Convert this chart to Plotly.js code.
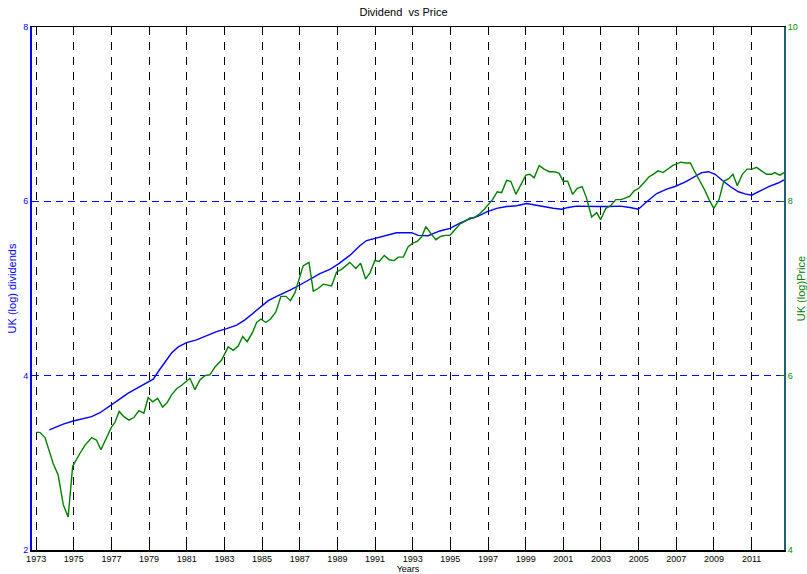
<!DOCTYPE html>
<html>
<head>
<meta charset="utf-8">
<script src="https://cdn.plot.ly/plotly-3.0.1.min.js"></script>
<style>html,body{margin:0;padding:0;background:#fff;}#chart{width:807px;height:574px;}</style>
</head>
<body>
<div id="chart"></div>
<script>
// Green series: UK (log) Price, right axis
const priceYears = [1973.0,1973.2,1973.47,1973.91,1974.17,1974.44,1974.7,1974.94,1975.33,1975.59,1975.95,1976.21,1976.44,1976.74,1977.0,1977.18,1977.41,1977.66,1977.93,1978.19,1978.46,1978.72,1978.95,1979.19,1979.45,1979.72,1979.96,1980.19,1980.46,1980.73,1981.17,1981.43,1981.7,1981.96,1982.23,1982.5,1982.85,1983.2,1983.47,1983.73,1983.97,1984.21,1984.5,1984.71,1984.94,1985.2,1985.45,1985.73,1986.0,1986.27,1986.51,1986.74,1986.97,1987.18,1987.49,1987.72,1987.98,1988.25,1988.69,1988.96,1989.22,1989.66,1989.98,1990.23,1990.5,1990.73,1990.99,1991.22,1991.49,1991.75,1992.02,1992.23,1992.5,1992.76,1993.0,1993.24,1993.47,1993.7,1993.97,1994.23,1994.5,1994.75,1994.98,1995.24,1995.51,1995.77,1996.04,1996.27,1996.57,1996.8,1997.01,1997.24,1997.49,1997.72,1997.99,1998.21,1998.48,1998.78,1999.01,1999.22,1999.45,1999.72,1999.98,2000.25,2000.51,2000.78,2000.99,2001.23,2001.49,2001.74,2002.0,2002.23,2002.5,2002.77,2002.98,2003.26,2003.51,2003.79,2004.06,2004.32,2004.53,2004.76,2005.01,2005.27,2005.54,2005.77,2006.03,2006.3,2006.56,2006.8,2007.01,2007.24,2007.5,2007.75,2007.98,2008.25,2008.51,2008.74,2008.99,2009.27,2009.52,2009.78,2010.01,2010.24,2010.51,2010.76,2011.03,2011.26,2011.53,2011.79,2012.06,2012.23,2012.5,2012.72];
const priceVals = [5.35,5.35,5.29,4.99,4.86,4.52,4.38,4.96,5.11,5.20,5.29,5.26,5.15,5.30,5.41,5.46,5.59,5.53,5.49,5.52,5.60,5.57,5.75,5.70,5.74,5.64,5.69,5.78,5.85,5.89,5.97,5.84,5.95,6.00,6.01,6.10,6.18,6.33,6.29,6.34,6.45,6.39,6.50,6.61,6.65,6.61,6.65,6.73,6.91,6.91,6.86,6.95,7.12,7.26,7.30,6.97,7.00,7.05,7.03,7.19,7.22,7.30,7.23,7.29,7.11,7.18,7.32,7.31,7.38,7.33,7.32,7.36,7.36,7.48,7.52,7.54,7.59,7.71,7.63,7.56,7.60,7.61,7.61,7.67,7.74,7.77,7.81,7.81,7.86,7.91,7.96,8.02,8.11,8.10,8.24,8.23,8.08,8.21,8.30,8.31,8.27,8.41,8.37,8.34,8.34,8.32,8.23,8.23,8.08,8.15,8.17,8.04,7.82,7.87,7.79,7.92,7.95,8.02,8.02,8.04,8.06,8.12,8.15,8.21,8.28,8.31,8.35,8.33,8.37,8.41,8.43,8.45,8.44,8.44,8.34,8.24,8.13,8.02,7.92,8.02,8.23,8.26,8.31,8.18,8.31,8.37,8.37,8.39,8.35,8.31,8.31,8.33,8.30,8.33];

// Blue series: UK (log) dividends, left axis
const divYears = [1973.7,1974.09,1974.44,1974.97,1975.5,1975.95,1976.39,1976.92,1977.36,1977.89,1978.34,1978.78,1979.22,1979.48,1979.84,1980.19,1980.55,1980.99,1981.52,1982.06,1982.58,1983.12,1983.65,1984.09,1984.44,1984.89,1985.33,1985.77,1986.12,1986.48,1987.01,1987.54,1988.07,1988.6,1989.04,1989.66,1990.19,1990.55,1991.08,1991.61,1992.14,1992.94,1993.29,1993.82,1994.44,1994.98,1995.51,1996.04,1996.48,1996.93,1997.46,1997.99,1998.52,1999.05,1999.76,2000.02,2000.46,2000.91,2001.26,2001.7,2002.24,2002.77,2003.48,2004.01,2004.54,2004.98,2005.43,2005.96,2006.49,2006.93,2007.46,2007.91,2008.35,2008.71,2009.06,2009.42,2009.86,2010.3,2010.65,2011.0,2011.44,2011.97,2012.41,2012.72];
const divVals = [3.377,3.41,3.445,3.48,3.51,3.53,3.575,3.65,3.72,3.80,3.855,3.91,3.96,4.045,4.16,4.26,4.33,4.38,4.41,4.455,4.505,4.54,4.58,4.64,4.70,4.78,4.86,4.91,4.94,4.98,5.04,5.105,5.17,5.22,5.28,5.38,5.49,5.55,5.58,5.61,5.64,5.64,5.61,5.605,5.66,5.69,5.75,5.80,5.83,5.88,5.92,5.94,5.95,5.975,5.945,5.93,5.92,5.91,5.93,5.945,5.94,5.94,5.94,5.945,5.93,5.91,5.995,6.09,6.14,6.17,6.22,6.275,6.33,6.34,6.31,6.245,6.17,6.11,6.085,6.07,6.12,6.175,6.21,6.245];

const yearTicks = [1973,1975,1977,1979,1981,1983,1985,1987,1989,1991,1993,1995,1997,1999,2001,2003,2005,2007,2009,2011];
const yearTickText = yearTicks.map(String);
const leftTicks = [2,4,6,8];
const rightTicks = [4,6,8,10];

const FONT = 'Liberation Sans Narrow, Liberation Sans, Arial, sans-serif';

const traces = [
  {x: divYears, y: divVals, type: 'scatter', mode: 'lines', name: 'UK (log) dividends',
   line: {color: '#0000ff', width: 1.4}, yaxis: 'y', cliponaxis: false},
  {x: priceYears, y: priceVals, type: 'scatter', mode: 'lines', name: 'UK (log)Price',
   line: {color: '#008000', width: 1.4}, yaxis: 'y2', cliponaxis: false}
];

const layout = {
  width: 807, height: 574,
  margin: {l: 32, r: 23, t: 27, b: 24, pad: 0},
  paper_bgcolor: '#ffffff', plot_bgcolor: '#ffffff',
  showlegend: false,
  font: {family: FONT, size: 9, color: '#000'},
  title: {text: 'Dividend  vs Price', font: {family: 'Liberation Sans, Arial, sans-serif', size: 11, color: '#000'},
          x: 0.5, xanchor: 'center', y: 1 - 12/574, yref: 'container', yanchor: 'middle'},
  xaxis: {
    range: [1972.78, 2012.72], tickvals: yearTicks, ticktext: yearTickText,
    showgrid: true, gridcolor: '#000000', gridwidth: 1, griddash: '8px,7px',
    zeroline: false, showline: true, linecolor: '#000000', linewidth: 1.5, mirror: 'ticks',
    ticks: 'inside', ticklen: 5, tickcolor: '#000', tickwidth: 1,
    tickfont: {family: FONT, size: 9, color: '#000'},
    title: {text: 'Years', font: {family: FONT, size: 9, color: '#000'}, standoff: 1},
    automargin: false
  },
  yaxis: {
    range: [2, 8], tickvals: leftTicks, ticktext: leftTicks.map(String),
    showgrid: true, gridcolor: '#0000ff', gridwidth: 1.2, griddash: '7px,5px',
    zeroline: false, showline: true, linecolor: '#0000ff', linewidth: 2,
    ticks: 'inside', ticklen: 4, tickcolor: '#0000ff',
    tickfont: {family: FONT, size: 9, color: '#0000ff'},
    title: {text: 'UK (log) dividends', font: {family: 'Liberation Sans, Arial, sans-serif', size: 11, color: '#0000ff'}, standoff: 4},
    automargin: false
  },
  yaxis2: {
    range: [4, 10], tickvals: rightTicks, ticktext: rightTicks.map(String),
    overlaying: 'y', side: 'right', showgrid: false,
    zeroline: false, showline: true, linecolor: '#1f5f7a', linewidth: 2,
    ticks: 'inside', ticklen: 4, tickcolor: '#008000',
    tickfont: {family: FONT, size: 9, color: '#009000'},
    title: {text: 'UK (log)Price', font: {family: 'Liberation Sans, Arial, sans-serif', size: 11, color: '#008000'}, standoff: 4},
    automargin: false
  }
};

Plotly.newPlot('chart', traces, layout, {staticPlot: true, displayModeBar: false});
</script>
</body>
</html>
